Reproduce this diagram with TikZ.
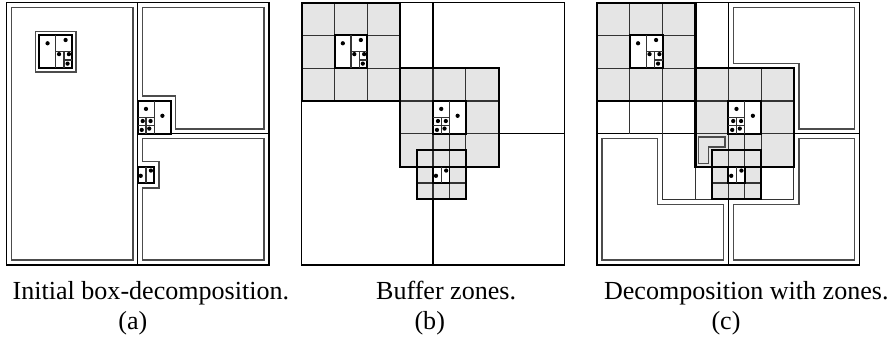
\documentclass[tikz,border=0pt]{standalone}
\usepackage{fontspec}
\setmainfont{Liberation Serif}
\usepackage{tikz}

\begin{document}
\begin{tikzpicture}[
            x=0.5cm, y=-0.5cm,
            frame/.style={draw=black, line width=0.5pt},
            cell/.style={draw=black!80, line width=0.5pt},
            zone/.style={fill=black!10},
            zoneedge/.style={draw=black, line width=0.9pt},
            particlebox/.style={draw=black, fill=white, line width=0.8pt},
            subdomain/.style={draw=black!70, line width=0.6pt},
            particle/.style={fill=black},
            caption/.style={anchor=base, font=\fontsize{11.3}{13.5}\selectfont}
        ]
        \useasboundingbox (-0.2,-0.08) rectangle (26.93,10.22);

        \foreach \dx in {0,9,18}
            \draw[frame] (\dx,0) rectangle (\dx+8,8);

        % (a) initial boxes
        \draw[frame] (4,0) -- (4,8) (4,4) -- (8,4);
        \draw[subdomain] (0.15,0.15) rectangle (3.85,7.85);
        \draw[subdomain] (0.88,0.88) rectangle (2.12,2.12);
        \draw[subdomain] (4.15,0.15) -- (7.85,0.15) -- (7.85,3.85) -- (5.15,3.85) -- (5.15,2.85) -- (4.15,2.85) -- cycle;
        \draw[subdomain] (4.15,4.15) -- (7.85,4.15) -- (7.85,7.85) -- (4.15,7.85) -- (4.15,5.65) -- (4.65,5.65) -- (4.65,4.85) -- (4.15,4.85) -- cycle;

        % (b) buffer zones
        \begin{scope}[shift={(9,0)}]
            \draw[frame] (4,0) -- (4,8) (4,4) -- (8,4);
            \fill[zone] (0,0) rectangle (3,3);
            \fill[zone] (3,2) rectangle (6,5);
            \fill[zone] (3.5,4.5) rectangle (5,6);
            \draw[cell] (1,0) -- (1,3) (2,0) -- (2,3) (0,1) -- (3,1) (0,2) -- (3,2);
            \draw[cell] (4,2) -- (4,5) (5,2) -- (5,5) (3,3) -- (6,3) (3,4) -- (6,4);
            \draw[cell] (4,4.5) -- (4,6) (4.5,4) -- (4.5,6) (3.5,5) -- (5,5) (3.5,5.5) -- (5,5.5);
            \draw[zoneedge] (0,0) rectangle (3,3);
            \draw[zoneedge] (3,2) rectangle (6,5);
            \draw[zoneedge] (3.5,4.5) rectangle (5,6);
        \end{scope}

        % (c) boxes together with zones
        \begin{scope}[shift={(18,0)}]
            \draw[frame] (4,0) -- (4,2) (4,6) -- (4,8) (0,4) -- (3,4) (6,4) -- (8,4);
            \draw[cell] (1,3) -- (1,4) (2,3) -- (2,4) (3,0) -- (3,4);
            \draw[cell] (2,4) -- (2,6) -- (3.5,6) (3,5) -- (3,6) (5,6) -- (6,6) -- (6,5);
            \fill[zone] (0,0) rectangle (3,3);
            \fill[zone] (3,2) rectangle (6,5);
            \fill[zone] (3.5,4.5) rectangle (5,6);
            \draw[cell] (1,0) -- (1,3) (2,0) -- (2,3) (0,1) -- (3,1) (0,2) -- (3,2);
            \draw[cell] (4,2) -- (4,5) (5,2) -- (5,5) (3,3) -- (6,3) (3,4) -- (6,4);
            \draw[cell] (4,4.5) -- (4,6) (4.5,4) -- (4.5,6) (3.5,5) -- (5,5) (3.5,5.5) -- (5,5.5);
            \draw[zoneedge] (0,0) rectangle (3,3);
            \draw[zoneedge] (3,2) rectangle (6,5);
            \draw[zoneedge] (3.5,4.5) rectangle (5,6);
            \draw[subdomain] (3.1,4.1) -- (3.9,4.1) -- (3.9,4.4) -- (3.4,4.4) -- (3.4,4.9) -- (3.1,4.9) -- cycle;
            \draw[subdomain] (4.15,0.15) -- (7.85,0.15) -- (7.85,3.85) -- (6.15,3.85) -- (6.15,1.85) -- (4.15,1.85) -- cycle;
            \draw[subdomain] (6.15,4.15) -- (7.85,4.15) -- (7.85,7.85) -- (4.15,7.85) -- (4.15,6.15) -- (6.15,6.15) -- cycle;
            \draw[subdomain] (0.15,4.15) -- (1.85,4.15) -- (1.85,6.15) -- (3.85,6.15) -- (3.85,7.85) -- (0.15,7.85) -- cycle;
        \end{scope}

        % particle boxes, the same in every panel
        \foreach \dx in {0,9,18} {
            \begin{scope}[shift={(\dx,0)}]
                \draw[particlebox] (1,1) rectangle (2,2);
                \draw[cell] (1.5,1) -- (1.5,2) (1.5,1.5) -- (2,1.5) (1.75,1.5) -- (1.75,2) (1.75,1.75) -- (2,1.75);
                \draw[particlebox] (4,3) rectangle (5,4);
                \draw[cell] (4.5,3) -- (4.5,4) (4,3.5) -- (4.5,3.5) (4.25,3.5) -- (4.25,4) (4,3.75) -- (4.5,3.75);
                \draw[particlebox] (4,5) rectangle (4.5,5.5);
                \draw[cell] (4.25,5) -- (4.25,5.5);
                \fill[particle] (1.25,1.24) circle (0.065) (1.8,1.14) circle (0.065) (1.6,1.57) circle (0.065)
                    (1.9,1.57) circle (0.065) (1.86,1.86) circle (0.065);
                \fill[particle] (4.25,3.24) circle (0.065) (4.75,3.45) circle (0.065) (4.15,3.61) circle (0.065)
                    (4.39,3.61) circle (0.065) (4.12,3.88) circle (0.065) (4.35,3.84) circle (0.065);
                \fill[particle] (4.09,5.28) circle (0.065) (4.4,5.12) circle (0.065);
            \end{scope}
        }

        \node[caption] (capa) at (4.4,9.04) {Initial box-decomposition.};
        \node[caption] (laba) at (3.85,9.95) {(a)};
        \node[caption] (capb) at (13.4,9.04) {Buffer zones.};
        \node[caption] (labb) at (12.9,9.95) {(b)};
        \node[caption] (capc) at (22.55,9.04) {Decomposition with zones.};
        \node[caption] (labc) at (21.93,9.95) {(c)};

    \end{tikzpicture}
\end{document}
